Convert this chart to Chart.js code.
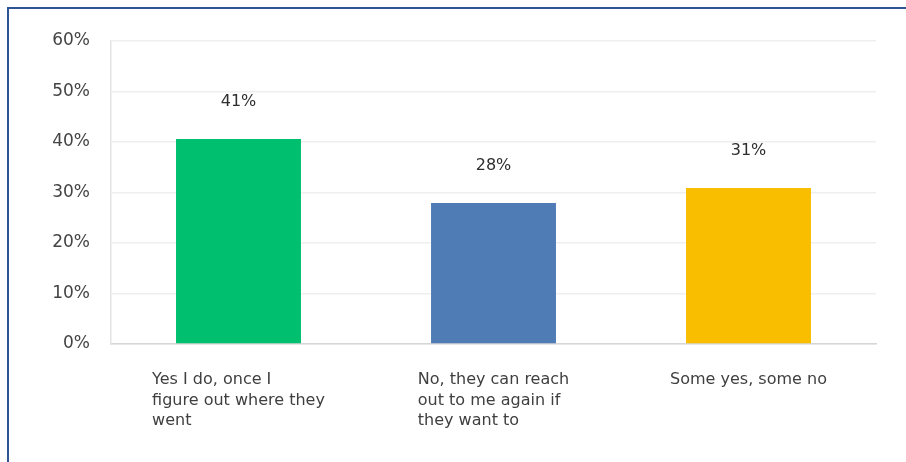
<!DOCTYPE html>
<html>
<head>
<meta charset="utf-8">
<script src="https://cdn.jsdelivr.net/npm/chart.js@4"></script>
<style>
  body { margin: 0; background: #fff; }
  .frame { position: absolute; left: 7px; top: 7px; width: 920px; height: 480px; border: 2px solid #2f5494; }
  .wrap { position: absolute; left: 0; top: 0; width: 906px; height: 462px; }
</style>
</head>
<body>
<div class="frame"></div>
<div class="wrap"><canvas id="chart"></canvas></div>
<script>
'use strict';

// data
const categories = [
    ['Yes I do, once I', 'figure out where they', 'went'],
    ['No, they can reach', 'out to me again if', 'they want to'],
    ['Some yes, some no'],
];
const values = [40.6, 27.9, 30.9];
const valueLabels = ['41%', '28%', '31%'];
const barColors = ['#00bf6f', '#507cb6', '#f9be00'];
const yTicks = [0, 10, 20, 30, 40, 50, 60];

const fontFamily = '"DejaVu Sans", Verdana, sans-serif';

// value labels above bars + multi line x labels (left aligned, centred block)
const labelPlugin = {
    id: 'labelPlugin',
    afterDatasetsDraw(chart) {
        const ctx = chart.ctx;
        const meta = chart.getDatasetMeta(0);
        ctx.save();
        ctx.font = '16px ' + fontFamily;
        ctx.fillStyle = '#2e2e2e';
        ctx.textAlign = 'center';
        ctx.textBaseline = 'middle';
        meta.data.forEach((bar, i) => {
            ctx.fillText(valueLabels[i], bar.x, bar.y - 37);
        });

        ctx.textAlign = 'left';
        ctx.fillStyle = '#3f3f3f';
        const base = chart.chartArea.bottom;
        meta.data.forEach((bar, i) => {
            const lines = categories[i];
            const w = Math.max(...lines.map(l => ctx.measureText(l).width));
            const x0 = bar.x - w / 2;
            lines.forEach((line, j) => {
                ctx.fillText(line, x0, base + 36 + j * 20.5);
            });
        });
        ctx.restore();
    },
};

const ctx = document.getElementById('chart').getContext('2d');
const chart = new Chart(ctx, {
    type: 'bar',
    data: {
        labels: categories.map(c => c.join(' ')),
        datasets: [
            {
                data: values,
                backgroundColor: barColors,
                borderWidth: 0,
                barPercentage: 0.49,
                categoryPercentage: 1,
            },
        ],
    },
    options: {
        responsive: true,
        maintainAspectRatio: false,
        animation: false,
        layout: { padding: { left: 0, right: 30, top: 41, bottom: 0 } },
        plugins: {
            legend: { display: false },
            tooltip: { enabled: false },
        },
        scales: {
            x: {
                grid: { display: false },
                border: { color: '#d6d6d6', width: 1.5 },
                ticks: { display: false },
                afterFit(scale) {
                    scale.height = 118;
                },
            },
            y: {
                min: 0,
                max: 60,
                afterBuildTicks(scale) {
                    scale.ticks = yTicks.map(v => ({ value: v }));
                },
                grid: { color: '#efefef', lineWidth: 1.5, drawTicks: false },
                border: { color: '#e4e4e4', width: 1.5 },
                ticks: {
                    padding: 21,
                    color: '#444',
                    font: { family: fontFamily, size: 17 },
                    callback: v => v + '%',
                },
                afterFit(scale) {
                    scale.width = 111;
                },
            },
        },
    },
    plugins: [labelPlugin],
});
</script>
</body>
</html>
